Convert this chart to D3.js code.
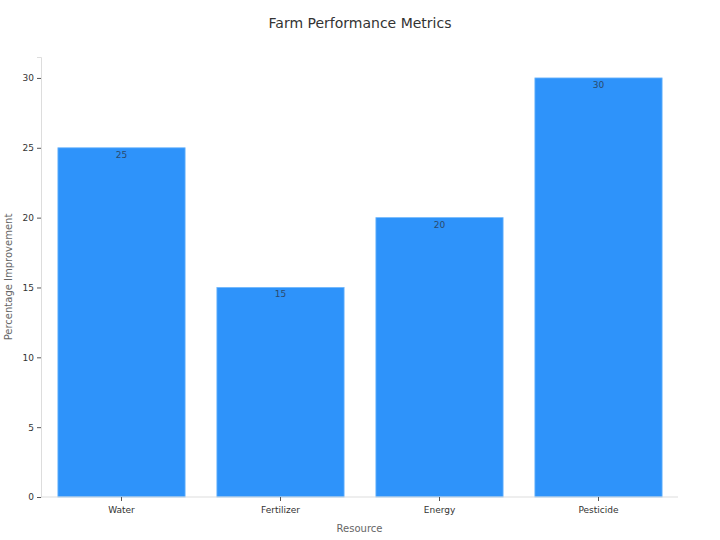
<!DOCTYPE html>
<html>
<head>
<meta charset="utf-8">
<script src="https://cdn.jsdelivr.net/npm/d3@7"></script>
<style>
  body { margin: 0; background: #fff; }
  svg { font-family: "DejaVu Sans", sans-serif; }
</style>
</head>
<body>
<svg id="chart" width="720" height="540"></svg>
<script>
// Datos del grafico
const categories = ["Water", "Fertilizer", "Energy", "Pesticide"];
const values = [25, 15, 20, 30];
const yTicks = [0, 5, 10, 15, 20, 25, 30];

const W = 720, H = 540;
const margin = {top: 57, right: 42, bottom: 43, left: 41};

const svg = d3.select("#chart");

const x = d3.scaleBand()
  .domain(categories)
  .range([margin.left + 1, W - margin.right])
  .paddingInner(0.2)
  .paddingOuter(0.1);

const y = d3.scaleLinear()
  .domain([0, 31.5])
  .range([H - margin.bottom, margin.top]);

// Titulo
svg.append("text")
  .attr("x", W / 2).attr("y", 28)
  .attr("text-anchor", "middle")
  .attr("fill", "#333")
  .style("font-size", "14px")
  .text("Farm Performance Metrics");

// Barras
svg.append("g").selectAll("rect")
  .data(values)
  .join("rect")
  .attr("x", (d, i) => x(categories[i]))
  .attr("y", d => y(d))
  .attr("width", x.bandwidth())
  .attr("height", d => y(0) - y(d))
  .attr("fill", "#2E93FA")
  .attr("stroke", "#6FB6FC")
  .attr("stroke-width", 0.8);

// Etiquetas de valor
svg.append("g").selectAll("text")
  .data(values)
  .join("text")
  .attr("x", (d, i) => x(categories[i]) + x.bandwidth() / 2)
  .attr("y", d => y(d) + 10)
  .attr("text-anchor", "middle")
  .attr("fill", "#2a4a6e")
  .style("font-size", "9px")
  .text(d => d);

// Eje Y
svg.append("g")
  .attr("transform", `translate(${margin.left},0)`)
  .call(d3.axisLeft(y).tickValues(yTicks).tickSize(4).tickPadding(3))
  .call(g => g.select(".domain").attr("stroke", "#ddd"))
  .call(g => g.selectAll(".tick line").attr("stroke", "#555"))
  .call(g => g.selectAll(".tick text").attr("fill", "#333").style("font-size", "9px").style("font-family", "DejaVu Sans"));

// Eje X
svg.append("g")
  .attr("transform", `translate(0,${H - margin.bottom})`)
  .call(d3.axisBottom(x).tickSize(4).tickPadding(6).tickSizeOuter(0))
  .call(g => g.select(".domain").attr("stroke", "#ddd").attr("d", `M${margin.left},0H${W - margin.right}`))
  .call(g => g.selectAll(".tick line").attr("stroke", "#555"))
  .call(g => g.selectAll(".tick text").attr("fill", "#333").style("font-size", "9px").style("font-family", "DejaVu Sans"));

// Titulos de ejes
svg.append("text")
  .attr("x", (margin.left + W - margin.right) / 2).attr("y", 532)
  .attr("text-anchor", "middle")
  .attr("fill", "#666")
  .style("font-size", "10px")
  .text("Resource");

svg.append("text")
  .attr("transform", `translate(12,${(margin.top + H - margin.bottom) / 2}) rotate(-90)`)
  .attr("text-anchor", "middle")
  .attr("fill", "#666")
  .style("font-size", "10px")
  .text("Percentage Improvement");
</script>
</body>
</html>
